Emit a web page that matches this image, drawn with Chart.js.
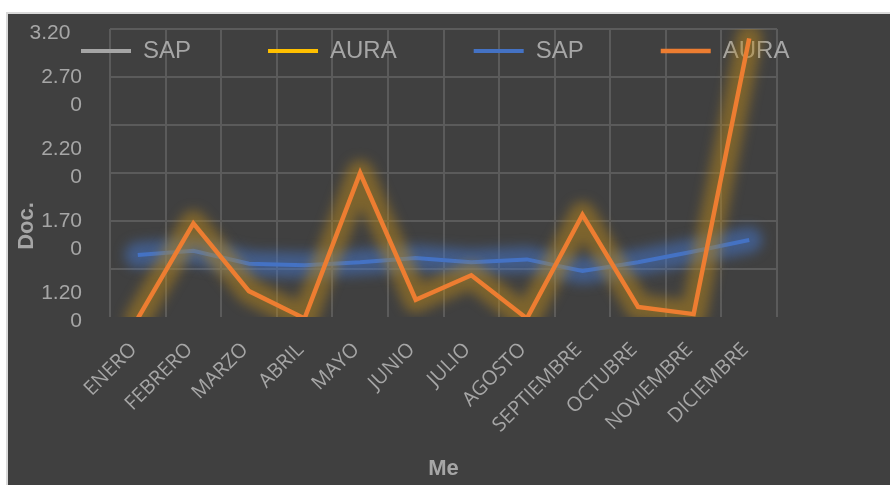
<!DOCTYPE html>
<html>
<head>
<meta charset="utf-8">
<script src="https://cdn.jsdelivr.net/npm/chart.js@4.4.1/dist/chart.umd.min.js"></script>
<style>
  html, body { margin: 0; padding: 0; background: #ffffff; }
  canvas { display: block; }
</style>
</head>
<body>
<canvas id="grafico" width="890" height="485"></canvas>
<script>
// datos del grafico
const meses = ['ENERO', 'FEBRERO', 'MARZO', 'ABRIL', 'MAYO', 'JUNIO', 'JULIO', 'AGOSTO', 'SEPTIEMBRE', 'OCTUBRE', 'NOVIEMBRE', 'DICIEMBRE'];
const sapGris = [];
const auraOro = [];
const sapAzul = [1.63, 1.66, 1.57, 1.56, 1.58, 1.61, 1.58, 1.60, 1.52, 1.58, 1.655, 1.735];
const auraNaranja = [1.19, 1.85, 1.38, 1.19, 2.2, 1.32, 1.49, 1.19, 1.91, 1.27, 1.22, 3.135];

const yTickValues = [1.2, 1.7, 2.2, 2.7, 3.2];
const yTickLabels = [['1.20', '0'], ['1.70', '0'], ['2.20', '0'], ['2.70', '0'], ['', '3.20  ']];
const yGridValues = [1.2, 1.2 + 1 / 3, 1.2 + 2 / 3, 2.2, 2.2 + 1 / 3, 2.2 + 2 / 3, 3.2];

const texto = '#a6a6a6';
const rejilla = '#5b5b5b';

// fondo oscuro con borde claro
const fondo = {
  id: 'fondo',
  beforeDraw(chart) {
    const { ctx, width, height } = chart;
    ctx.save();
    ctx.fillStyle = '#ffffff';
    ctx.fillRect(0, 0, width, height);
    ctx.fillStyle = '#d9d9d9';
    ctx.fillRect(6, 12, width - 6, height - 12);
    ctx.fillStyle = '#404040';
    ctx.fillRect(8, 14, width - 8, height - 14);
    ctx.restore();
  }
};

// la leyenda va encima del area del grafico
const leyendaEncima = {
  id: 'leyendaEncima',
  beforeInit(chart) {
    const fit = chart.legend.fit;
    chart.legend.fit = function () {
      fit.call(this);
      this.height = 0;
    };
  },
  afterLayout(chart) {
    chart.legend.top = -38;
    chart.legend.bottom = 120;
  }
};

// resplandor de las lineas (efecto glow)
const resplandor = {
  id: 'resplandor',
  beforeDatasetDraw(chart, args) {
    const ds = chart.data.datasets[args.index];
    const pts = args.meta.data;
    if (!ds.glow || !pts.length) return;
    const { ctx, chartArea: a } = chart;
    ctx.save();
    ctx.beginPath();
    ctx.rect(a.left, a.top, a.right - a.left, a.bottom - a.top);
    ctx.clip();
    ctx.filter = 'blur(6px)';
    ctx.strokeStyle = ds.glow;
    ctx.lineWidth = 26;
    ctx.lineJoin = 'round';
    ctx.lineCap = 'round';
    ctx.beginPath();
    pts.forEach((p, i) => (i ? ctx.lineTo(p.x, p.y) : ctx.moveTo(p.x, p.y)));
    ctx.stroke();
    ctx.restore();
  }
};

new Chart(document.getElementById('grafico'), {
  type: 'line',
  data: {
    labels: meses,
    datasets: [
      { label: 'SAP', data: sapGris, borderColor: '#a5a5a5', backgroundColor: '#a5a5a5', borderWidth: 4, order: 1 },
      { label: 'AURA', data: auraOro, borderColor: '#ffc000', backgroundColor: '#ffc000', borderWidth: 4, order: 1 },
      { label: 'SAP', data: sapAzul, borderColor: '#4472c4', backgroundColor: '#4472c4', borderWidth: 4, order: 1, glow: 'rgba(68,114,196,0.55)' },
      { label: 'AURA', data: auraNaranja, borderColor: '#ed7d31', backgroundColor: '#ed7d31', borderWidth: 4.5, order: 0, glow: 'rgba(185,135,25,0.5)' }
    ]
  },
  options: {
    responsive: false,
    animation: false,
    devicePixelRatio: 1,
    layout: { padding: { left: 4, top: 29, right: 0, bottom: 0 } },
    elements: {
      point: { radius: 0 },
      line: { tension: 0, borderJoinStyle: 'miter' }
    },
    datasets: { line: { clip: 0 } },
    plugins: {
      tooltip: { enabled: false },
      legend: {
        position: 'top',
        align: 'start',
        labels: {
          usePointStyle: true,
          pointStyle: 'line',
          pointStyleWidth: 50,
          padding: 77,
          color: texto,
          font: { family: 'Liberation Sans', size: 24 },
          sort: (a, b) => a.datasetIndex - b.datasetIndex
        }
      }
    },
    scales: {
      x: {
        offset: true,
        grid: { offset: true, color: rejilla, lineWidth: 2, drawTicks: false },
        border: { display: false },
        ticks: {
          autoSkip: false,
          minRotation: 45,
          maxRotation: 45,
          padding: 21,
          labelOffset: -4,
          color: texto,
          font: { family: 'Open Sans', size: 20 }
        },
        afterFit: (s) => { s.height = 168; },
        title: {
          display: true,
          text: 'Me',
          color: texto,
          font: { family: 'Liberation Sans', size: 22, weight: 'bold' },
          padding: { top: 0, bottom: 3 }
        }
      },
      y: {
        position: 'left',
        min: 1.2,
        max: 3.2,
        afterBuildTicks: (s) => { s.ticks = yTickValues.map((v) => ({ value: v })); },
        afterFit: (s) => { s.width = 106; s.paddingTop = 0; s.paddingBottom = 0; },
        grid: { display: false, drawTicks: false },
        border: { display: false },
        ticks: {
          padding: 28,
          labelOffset: -10,
          color: texto,
          font: { family: 'Liberation Sans', size: 21, lineHeight: 1.333 },
          callback: (v, i) => yTickLabels[i]
        },
        title: {
          display: true,
          text: '           Doc.',
          align: 'start',
          color: texto,
          font: { family: 'Liberation Sans', size: 22, weight: 'bold' },
          padding: { top: 10, bottom: 0 }
        }
      },
      yg: {
        position: 'right',
        min: 1.2,
        max: 3.2,
        afterBuildTicks: (s) => { s.ticks = yGridValues.map((v) => ({ value: v })); },
        afterFit: (s) => { s.width = 113; },
        ticks: { display: false },
        grid: {
          color: (c) => (c.tick && c.tick.value === 1.2 ? 'rgba(0,0,0,0)' : rejilla),
          lineWidth: 2,
          drawTicks: false
        },
        border: { display: false }
      }
    }
  },
  plugins: [fondo, leyendaEncima, resplandor]
});
</script>
</body>
</html>
